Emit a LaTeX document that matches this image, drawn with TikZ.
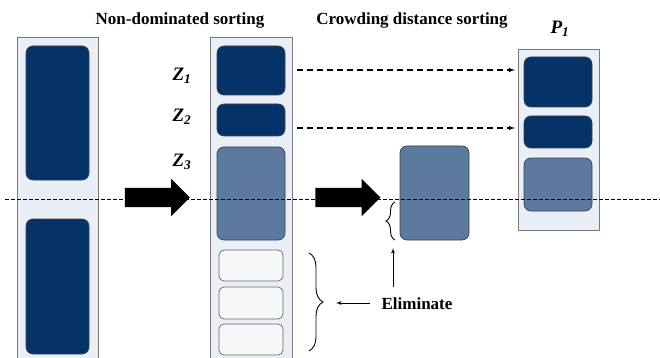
\documentclass[tikz,border=0pt]{standalone}
\usepackage{fontspec}
\setmainfont{Liberation Serif}
\usepackage{tikz}
\usetikzlibrary{shapes,arrows,decorations.pathreplacing}
\definecolor{navy}{RGB}{4,51,105}
\definecolor{midblue}{RGB}{92,122,160}
\definecolor{colbg}{RGB}{234,239,247}
\definecolor{colline}{RGB}{120,120,120}
\tikzstyle{column} = [rectangle, draw=colline, fill=colbg, line width=0.9pt, inner sep=0pt]
\tikzstyle{elite} = [rectangle, draw=black!75, fill=navy, rounded corners=7pt,
    line width=0.7pt, inner sep=0pt]
\tikzstyle{front} = [elite, fill=midblue]
\tikzstyle{worse} = [elite, fill=white!97!black, draw=black!60, rounded corners=5pt]
\tikzstyle{bigarrow} = [single arrow, fill=black, inner sep=0pt, minimum height=65pt,
    single arrow head extend=9pt, single arrow tip angle=90]
\tikzstyle{title} = [font=\fontsize{17}{20}\selectfont\bfseries]
\tikzstyle{label} = [font=\fontsize{19}{20}\selectfont\bfseries\itshape]
\tikzstyle{line} = [draw, -latex']
\tikzstyle{copied} = [line, dash pattern=on 6pt off 4pt, line width=1.2pt]

\begin{document}
\begin{tikzpicture}[x=1pt, y=-1pt]
    \useasboundingbox (0,0) rectangle (660,358);
    \clip (0,0) rectangle (660,358);
    % parent population
    \node [column, minimum width=81pt, minimum height=333pt] (parent) at (57.5,203.5) {};
    \node [elite, minimum width=63pt, minimum height=134pt] (pa) at (57.5,113) {};
    \node [elite, minimum width=63pt, minimum height=135pt] (pb) at (57.5,286.5) {};
    % sorted fronts
    \node [column, minimum width=82pt, minimum height=333pt] (sorted) at (251,203.5) {};
    \node [elite, minimum width=68pt, minimum height=49pt] (z1) at (251,70.5) {};
    \node [elite, minimum width=68pt, minimum height=32pt] (z2) at (251,120) {};
    \node [front, minimum width=68pt, minimum height=93pt] (z3) at (251,193.5) {};
    \node [worse, minimum width=64pt, minimum height=31pt] (w1) at (251,265.5) {};
    \node [worse, minimum width=64pt, minimum height=32pt] (w2) at (251,303) {};
    \node [worse, minimum width=64pt, minimum height=31pt] (w3) at (251,339.5) {};
    \node [label] (lz1) at (182,76) {Z\textsubscript{1}};
    \node [label] (lz2) at (182,117) {Z\textsubscript{2}};
    \node [label] (lz3) at (182,162) {Z\textsubscript{3}};
    % crowding distance
    \node [front, minimum width=69pt, minimum height=94pt] (cut) at (434.5,193) {};
    % next population
    \node [column, minimum width=81pt, minimum height=181pt] (next) at (558.5,139.5) {};
    \node [elite, minimum width=68pt, minimum height=50pt] (n1) at (558,82) {};
    \node [elite, minimum width=68pt, minimum height=32pt] (n2) at (558,132) {};
    \node [front, minimum width=68pt, minimum height=53pt] (n3) at (558,184.5) {};
    \node [label] (lp1) at (560,29) {P\textsubscript{1}};
    % titles
    \node [title] (t1) at (180,20) {Non-dominated sorting};
    \node [title] (t2) at (412,20) {Crowding distance sorting};
    \node [title] (elim) at (417,304) {Eliminate};
    % big arrows
    \node [bigarrow] (arr1) at (152.5,197.5) {\rule{0pt}{19pt}};
    \node [bigarrow] (arr2) at (343,197.5) {\rule{0pt}{19pt}};
    % copied fronts
    \coordinate (s1) at (297,70);
    \coordinate (e1) at (515,70);
    \coordinate (s2) at (297,128);
    \coordinate (e2) at (515,128);
    \path [copied] (s1) -- (e1);
    \path [copied] (s2) -- (e2);
    % braces
    \coordinate (b1a) at (395,240);
    \coordinate (b1b) at (395,202);
    \coordinate (b2a) at (309,253);
    \coordinate (b2b) at (309,351);
    \draw [decorate, decoration={brace, amplitude=9pt}, line width=0.9pt] (b1a) -- (b1b);
    \draw [decorate, decoration={brace, amplitude=14pt}, line width=0.9pt] (b2a) -- (b2b);
    \coordinate (up0) at (393,287);
    \coordinate (up1) at (393,248);
    \coordinate (lf0) at (370,303);
    \coordinate (lf1) at (336,303);
    \path [line, line width=0.9pt] (up0) -- (up1);
    \path [line, line width=0.9pt] (lf0) -- (lf1);
    % cut line
    \coordinate (cl0) at (5,199);
    \coordinate (cl1) at (660,199);
    \draw [dash pattern=on 4pt off 2pt, line width=0.9pt] (cl0) -- (cl1);
\end{tikzpicture}
\end{document}
